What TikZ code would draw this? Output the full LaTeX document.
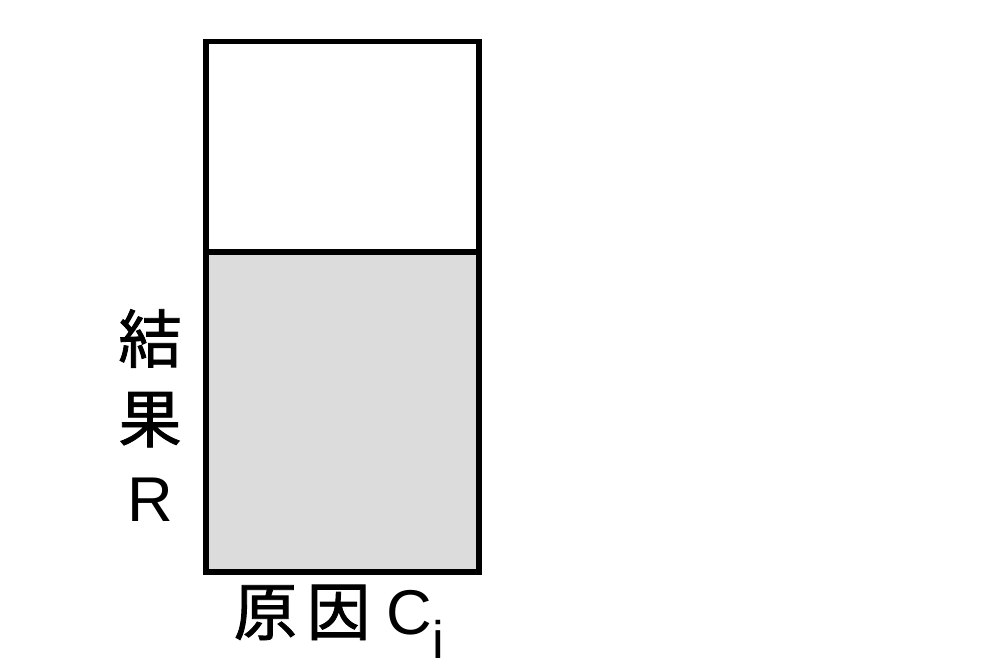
\documentclass[tikz,border=0pt]{standalone}
\usepackage{fontspec}
\setmainfont{Liberation Sans}
\newfontfamily\cjk{Noto Sans CJK JP}[FakeBold=1.3]
\usetikzlibrary{positioning}
\definecolor{shade}{RGB}{220,220,220}
\tikzset{%
  box/.style   = {draw, line width = 0.055cm, rectangle, inner sep = 0pt,
    minimum width = 2.73cm},
  label/.style = {inner sep = 0pt, font = \fontsize{18}{22.7}\selectfont}
}

\begin{document}
\begin{tikzpicture}
\useasboundingbox (0,0) rectangle (9.83,6.70);
%boxes
\draw
	(3.425,5.2325) node [box, minimum height = 2.105cm] (upper) {}
	(3.425,2.58) node [box, fill = shade, minimum height = 3.20cm] (lower) {};
%labels
\node [label, align = center, anchor = base] (result) at (1.50,1.48)
	{\cjk 結\\\cjk 果\\R};
\node [label, anchor = base west] (cause) at (2.33,0.35)
	{\cjk 原\hspace{0.1cm}因\hspace{0.02cm} \rmfamily C\raisebox{-0.24cm}{\fontsize{15}{16}\selectfont i}};
\end{tikzpicture}
\end{document}
